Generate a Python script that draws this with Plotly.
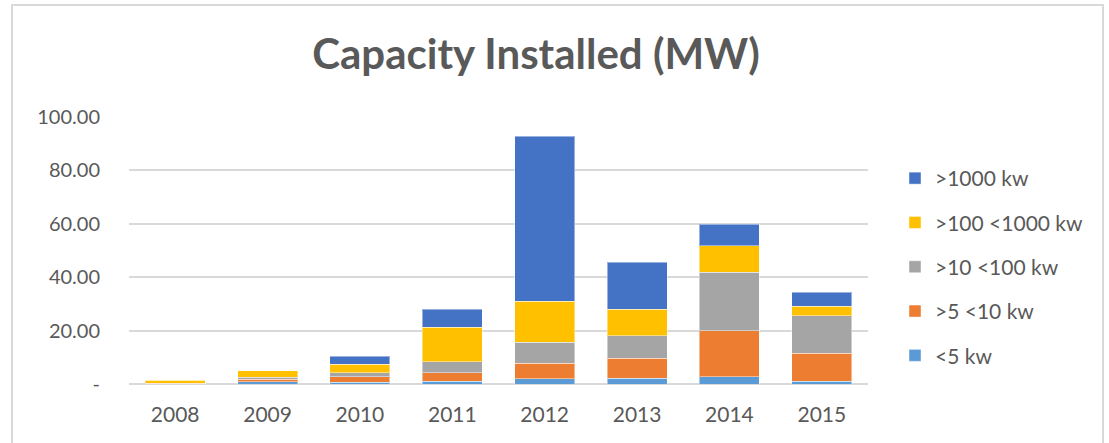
import plotly.graph_objects as go

years = ["2008", "2009", "2010", "2011", "2012", "2013", "2014", "2015"]
lt5 = [0.1, 0.86, 0.75, 1.1, 1.9, 2.1, 2.75, 1.1]
s5_10 = [0.1, 1.0, 2.0, 3.1, 5.9, 7.5, 17.2, 10.35]
s10_100 = [0.1, 0.6, 1.5, 4.1, 7.85, 8.45, 21.9, 14.1]
s100_1000 = [1.2, 2.5, 3.1, 13.0, 15.4, 9.9, 10.0, 3.6]
gt1000 = [0.0, 0.0, 3.1, 6.7, 61.7, 17.6, 8.0, 5.2]

series = [
    ("<5 kw", lt5, "#5B9BD5"),
    (">5 <10 kw", s5_10, "#ED7D31"),
    (">10 <100 kw", s10_100, "#A5A5A5"),
    (">100 <1000 kw", s100_1000, "#FFC000"),
    (">1000 kw", gt1000, "#4472C4"),
]

y_ticks = [0, 20, 40, 60, 80, 100]
y_ticktext = ["-", "20.00", "40.00", "60.00", "80.00", "100.00"]

FONT = "Lato"
GREY = "#595959"

fig = go.Figure()
n = len(series)
for i, (name, vals, col) in enumerate(series):
    fig.add_trace(go.Bar(
        x=years, y=vals, name=name, legendgroup=f"g{i}", legendrank=1000 + (n - i),
        marker=dict(color=col, line=dict(color="rgba(255,255,255,0.45)", width=1)),
    ))

W, H = 1109, 443
L, R, T, B = 129, W - 868, 117, H - 384
pw, ph = W - L - R, H - T - B

def px(x):
    return (x - L) / pw

def py(y):
    return (H - B - y) / ph

fig.update_layout(
    width=W, height=H, autosize=False,
    margin=dict(l=L, r=R, t=T, b=B, pad=0),
    barmode="stack", bargap=0.35,
    paper_bgcolor="white", plot_bgcolor="white",
    font=dict(family=FONT, color=GREY, size=20),
    title=dict(text="<b>Capacity Installed (MW)</b>", x=536 / W, xanchor="center",
               xref="container", y=1 - 54 / H, yanchor="middle", yref="container",
               font=dict(family=FONT, size=42, color=GREY)),
    xaxis=dict(showgrid=False, showline=False, ticks="", tickfont=dict(size=21, color=GREY),
               ticklabelstandoff=16),
    yaxis=dict(range=[0, 100], tickvals=y_ticks, ticktext=y_ticktext, showgrid=True,
               gridcolor="#D9D9D9", gridwidth=1.5, zeroline=True, zerolinecolor="#D9D9D9",
               zerolinewidth=1.5, showline=False, ticks="",
               tickfont=dict(size=20, color=GREY), ticklabelstandoff=28),
    legend=dict(x=px(895), xanchor="left", y=py(158), yanchor="top",
                traceorder="grouped", tracegroupgap=14,
                font=dict(size=21, color=GREY), bgcolor="rgba(0,0,0,0)",
                itemwidth=30),
    shapes=[dict(type="rect", xref="paper", yref="paper",
                 x0=px(12), x1=px(1103), y0=py(460), y1=py(5),
                 line=dict(color="#D9D9D9", width=2), fillcolor="rgba(0,0,0,0)", layer="below")],
)

fig.write_html("out.html", config={"displayModeBar": False},
               post_script="document.body.style.margin='0';")
